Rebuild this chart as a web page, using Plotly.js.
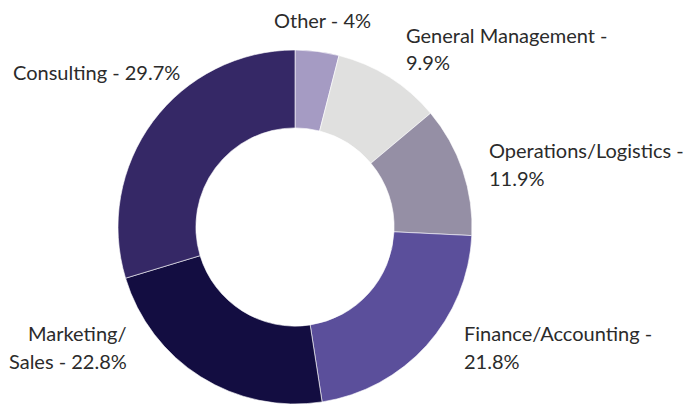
<!DOCTYPE html>
<html>
<head>
<meta charset="utf-8">
<script src="https://cdn.plot.ly/plotly-3.0.1.min.js"></script>
<style>html,body{margin:0;padding:0;background:#fff;}#chart{width:688px;height:406px;}</style>
</head>
<body>
<div id="chart"></div>
<script>
// Data
const categories = ["Other", "General Management", "Operations/Logistics", "Finance/Accounting", "Marketing/Sales", "Consulting"];
const values = [4, 9.9, 11.9, 21.8, 22.8, 29.7];
const colors = ["#a59bc3", "#e0e0df", "#958fa5", "#5b4f9b", "#130d41", "#352866"];
// label lines (text as displayed)
const labelLines = [
  ["Other - 4%"],
  ["General Management -", "9.9%"],
  ["Operations/Logistics -", "11.9%"],
  ["Finance/Accounting -", "21.8%"],
  ["Marketing/", "Sales - 22.8%"],
  ["Consulting - 29.7%"]
];
// label placement (pixels): x, first-line y, anchor
const labelPos = [
  {x: 272, y: 20, a: "left"},
  {x: 404, y: 35, a: "left"},
  {x: 487, y: 150, a: "left"},
  {x: 462, y: 333, a: "left"},
  {x: 129, y: 333, a: "right"},
  {x: 11, y: 72, a: "left"}
];
const W = 688, H = 406, LINE = 27.5;
const FONT = {family: "Lato, 'Liberation Sans', sans-serif", size: 20, color: "#2b2b2b"};

const annotations = [];
labelLines.forEach((lines, i) => {
  lines.forEach((t, j) => {
    annotations.push({
      text: t, showarrow: false, xref: "paper", yref: "paper",
      x: labelPos[i].x / W, y: 1 - (labelPos[i].y + j * LINE) / H,
      xanchor: labelPos[i].a, yanchor: "middle", font: FONT
    });
  });
});

const cx = 295, cy = 227, R = 177;
Plotly.newPlot("chart", [{
  type: "pie",
  labels: categories,
  values: values,
  sort: false,
  direction: "clockwise",
  rotation: 0,
  hole: 0.56,
  textinfo: "none",
  hoverinfo: "label+value",
  marker: {colors: colors, line: {color: "#ffffff", width: 0.6}},
  domain: {x: [(cx - R) / W, (cx + R) / W], y: [1 - (cy + R) / H, 1 - (cy - R) / H]}
}], {
  width: W, height: H,
  margin: {l: 0, r: 0, t: 0, b: 0},
  showlegend: false,
  paper_bgcolor: "#ffffff",
  annotations: annotations
}, {staticPlot: true});
</script>
</body>
</html>
